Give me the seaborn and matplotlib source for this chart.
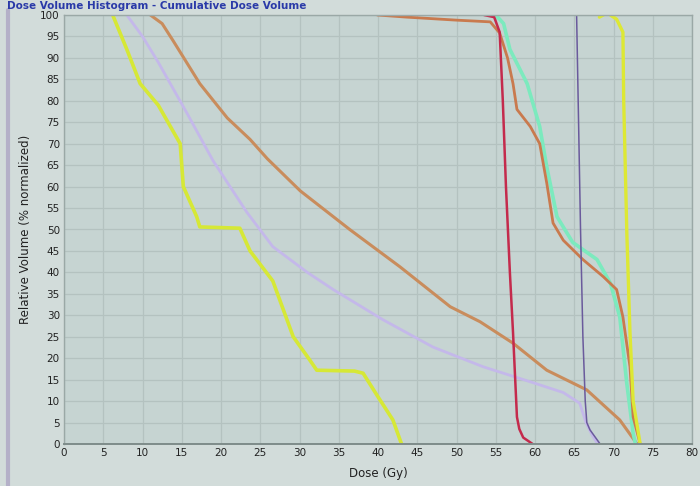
import matplotlib
matplotlib.use("Agg")
import matplotlib.pyplot as plt
import seaborn as sns
import pandas as pd

# ---- data (dose in Gy, relative volume in %) ----
yellow_left_dose = [6.2, 8.0, 9.7, 12.0, 14.8, 15.2, 16.9, 17.3, 22.4, 23.7, 26.6, 27.5, 29.2, 31.3, 32.2, 37.0, 38.1, 40.0, 41.9, 42.8, 43.0]
yellow_left_vol  = [100, 92, 84, 79, 70, 60, 53, 50.6, 50.3, 45, 38, 33.5, 25, 19.6, 17.2, 17, 16.5, 11, 5.6, 1, 0]

lavender_dose = [8.0, 10.0, 12.0, 15.7, 19.0, 23.3, 26.6, 31.0, 34.3, 40.6, 47.0, 53.4, 59.4, 63.6, 65.7, 66.5, 67.3, 68.0]
lavender_vol  = [100, 95, 89, 77, 66, 54, 46, 40, 36, 29, 22.6, 18, 14.5, 12, 9.5, 5, 2, 0]

orange_diag_dose = [11.0, 12.5, 13.9, 17.3, 20.8, 23.7, 25.9, 30.1, 36.4, 42.8, 49.2, 53.0, 57.2, 61.5, 66.6, 70.8, 73.0]
orange_diag_vol  = [100, 98, 94, 84, 76, 71, 66.5, 59, 50, 41.3, 32, 28.5, 23.5, 17.2, 12.6, 5.6, 0]

crimson_dose = [53.5, 54.8, 55.5, 55.9, 56.3, 56.8, 57.2, 57.7, 58.0, 58.5, 59.7]
crimson_vol  = [100, 99.5, 96, 80, 60, 40, 26, 6.3, 3.5, 1.5, 0]

orange_step_dose = [39.9, 43.7, 50.0, 54.3, 55.5, 56.5, 57.2, 57.7, 59.4, 60.6, 61.5, 62.3, 63.6, 66.1, 68.7, 70.4, 71.2, 72.1, 72.5, 73.4]
orange_step_vol  = [100, 99.5, 98.8, 98.4, 95.8, 90, 84, 78, 74, 70, 60.8, 51.5, 47.5, 43, 39, 36, 29.6, 18, 6.3, 0]

aqua_dose = [55.0, 56.0, 56.8, 59.0, 60.6, 61.5, 62.8, 64.8, 67.9, 69.6, 70.8, 71.7, 72.5, 72.8]
aqua_vol  = [100, 98, 92, 84, 74, 64.6, 53, 47, 43, 37.5, 29.6, 14, 2.5, 0]

slate_dose = [65.3, 65.5, 65.8, 66.1, 66.4, 66.6, 67.0, 68.3]
slate_vol  = [100, 80, 50, 25, 10, 5, 3.3, 0]

yellow_right_dose = [68.2, 69.2, 70.4, 71.2, 71.3, 71.7, 72.1, 72.5, 73.4]
yellow_right_vol  = [99.5, 100.5, 99, 96, 80, 49, 26, 10, 0]

x_ticks = list(range(0, 85, 5))
y_ticks = list(range(0, 105, 5))

series = [
    ("lavender", lavender_dose, lavender_vol, "#c4b8ea", 2.0),
    ("yellow_left", yellow_left_dose, yellow_left_vol, "#d6e836", 2.6),
    ("orange_diag", orange_diag_dose, orange_diag_vol, "#c98c5c", 2.2),
    ("aqua", aqua_dose, aqua_vol, "#7ceabe", 2.6),
    ("orange_step", orange_step_dose, orange_step_vol, "#c97a4e", 2.0),
    ("crimson", crimson_dose, crimson_vol, "#c42a4c", 1.8),
    ("slate", slate_dose, slate_vol, "#6a5a9c", 1.1),
    ("yellow_right", yellow_right_dose, yellow_right_vol, "#dde834", 2.4),
]

frames = []
for name, d, v, c, lw in series:
    frames.append(pd.DataFrame({"dose": d, "vol": v, "structure": name}))
df = pd.concat(frames, ignore_index=True)

sns.set_style("white")
plt.rcParams["font.family"] = ["DejaVu Sans"]

fig = plt.figure(figsize=(7.0, 4.86), dpi=100, facecolor="#d2dcda")
ax = fig.add_axes([64 / 700, 42 / 486, 628 / 700, 429 / 486])
ax.set_facecolor("#c6d4d2")

for name, d, v, c, lw in series:
    sns.lineplot(data=df[df["structure"] == name], x="dose", y="vol", sort=False,
                 color=c, linewidth=lw, ax=ax, estimator=None)

ax.set_xlim(0, 80)
ax.set_ylim(0, 100)
ax.set_xticks(x_ticks)
ax.set_yticks(y_ticks)
ax.tick_params(axis="both", labelsize=7.5, length=0, pad=3, colors="#222222")
ax.grid(True, color="#b4c2c0", linewidth=0.9)
ax.set_axisbelow(True)
for s in ["top", "right", "left"]:
    ax.spines[s].set_color("#9aa8a6")
    ax.spines[s].set_linewidth(1.0)
ax.spines["bottom"].set_color("#7e8c8a")
ax.spines["bottom"].set_linewidth(1.4)

ax.set_xlabel("Dose (Gy)", fontsize=8.5, color="#222222", labelpad=6)
ax.set_ylabel("Relative Volume (% normalized)", fontsize=8.5, color="#222222", labelpad=6)

fig.text(0.01, 1 - 6 / 486, "Dose Volume Histogram - Cumulative Dose Volume", fontsize=7.5,
         fontweight="bold", color="#2a3aa8", va="center", ha="left")

fig.add_artist(plt.Line2D([0.012, 0.012], [0, 0.98], transform=fig.transFigure,
                          color="#b4b0c8", linewidth=3))

fig.savefig("out.png", dpi=100, facecolor=fig.get_facecolor())
